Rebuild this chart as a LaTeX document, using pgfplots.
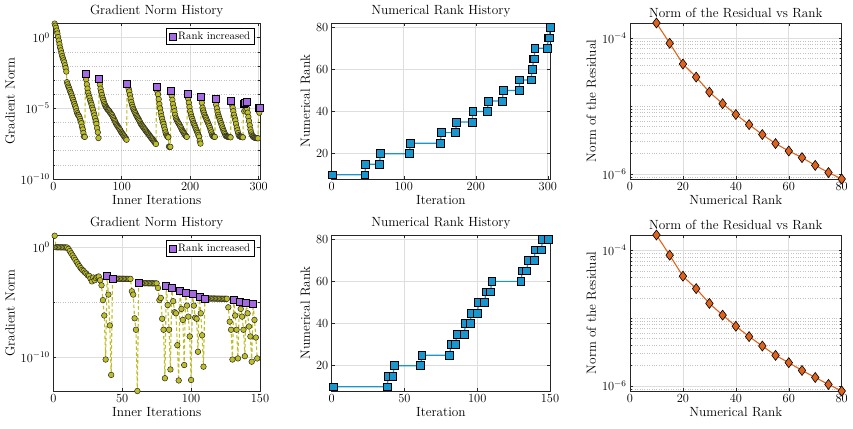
\RequirePackage{fix-cm}
\documentclass[border=0pt]{standalone}
\usepackage{pgfplots}
\pgfplotsset{compat=1.18}

\definecolor{gcol}{RGB}{190,190,40}
\definecolor{pcol}{RGB}{165,105,225}
\definecolor{bcol}{RGB}{25,150,205}
\definecolor{ocol}{RGB}{222,100,30}
\definecolor{axcol}{RGB}{38,38,38}

\pgfplotsset{
  panel/.style={
    scale only axis,
    anchor=south west,
    axis line style={axcol, line width=0.6pt},
    every tick/.style={axcol, line width=0.5pt},
    major tick length=3pt,
    minor tick length=1.8pt,
    tick label style={font=\fontsize{12.4}{14}\selectfont},
    label style={font=\fontsize{13.3}{15}\selectfont},
    title style={font=\fontsize{13.3}{15}\selectfont, yshift=-4pt},
    major grid style={black!13, line width=0.7pt},
    minor grid style={black!24, dotted, line width=0.5pt},
    xlabel style={yshift=2pt},
    ylabel style={yshift=-1pt},
    legend style={font=\fontsize{10.8}{12}\selectfont, draw=black, fill=white,
      inner xsep=2.5pt, inner ysep=1.5pt, at={(0.975,0.965)}, anchor=north east},
    legend cell align=left,
  },
  gnorm/.style={gcol, line width=1.1pt, dash pattern=on 3.5pt off 2.5pt,
    mark=*, mark size=2.8pt,
    mark options={solid, fill=gcol, draw=black!85, line width=0.5pt}},
  rankinc/.style={only marks, mark=square*, mark size=3.5pt,
    mark options={fill=pcol, draw=black, line width=0.6pt}},
  rankline/.style={bcol, line width=1.2pt, mark=square*, mark size=3.9pt,
    mark options={fill=bcol, draw=black, line width=0.7pt}},
  resline/.style={ocol, line width=1.1pt, mark=diamond*, mark size=5pt,
    mark options={fill=ocol, draw=black, line width=0.6pt}},
}

\begin{document}
\begin{tikzpicture}
\path[use as bounding box] (0,0) rectangle (853pt,428pt);

% ---------------- first run: gradient norm ----------------
\begin{axis}[panel, at={(53.3pt,249pt)}, width=206.7pt, height=156pt,
  ymode=log, xmin=0, xmax=302, ymin=1e-10, ymax=11,
  xtick={0,100,200,300}, ytick={1e-10,1e-5,1},
  minor ytick={1e-9,1e-8,1e-7,1e-6,1e-4,1e-3,1e-2,1e-1,10},
  grid=both,
  title={Gradient Norm History}, xlabel={Inner Iterations}, ylabel={Gradient Norm}]
\addplot[gnorm, forget plot] coordinates {
(1,11.2)(2,10)(3,7.1)(4,5.0)(5,3.2)(6,2.0)(7,1.12)(8,0.63)(9,0.35)(10,0.2)
(11,0.126)(12,7.9e-2)(13,5.0e-2)(14,3.5e-2)(15,2.5e-2)(16,1.8e-2)(17,1.12e-2)(18,7.1e-3)(19,4.0e-3)(20,7.1e-4)
(21,5.0e-4)(22,3.5e-4)(23,2.8e-4)(24,2.0e-4)(25,1.41e-4)(26,1.12e-4)(27,7.9e-5)(28,5.6e-5)(29,4.0e-5)(30,2.8e-5)
(31,2.0e-5)(32,1.41e-5)(33,1.0e-5)(34,6.3e-6)(35,4.5e-6)(36,3.5e-6)(37,3.2e-6)(38,2.5e-6)(39,1.8e-6)(40,1.26e-6)
(41,8.9e-7)(42,5.0e-7)(43,3.2e-7)(44,1.8e-7)(45,1.0e-7)(46,9.5e-8)
(47,2.75e-3)(48,1.12e-3)(49,5.0e-4)(50,2.5e-4)(51,1.26e-4)(52,7.9e-5)(53,5.6e-5)(54,3.5e-5)(55,2.5e-5)(56,1.8e-5)
(57,1.12e-5)(58,7.9e-6)(59,5.0e-6)(60,3.2e-6)(61,2.0e-6)(62,1.26e-6)(63,7.9e-7)(64,4.0e-7)(65,2.0e-7)(66,7.9e-8)
(67,1.32e-3)(68,5.0e-4)(69,2.5e-4)(70,1.41e-4)(71,8.9e-5)(72,5.6e-5)(73,4.0e-5)(74,2.8e-5)(75,2.0e-5)(76,1.58e-5)
(77,1.26e-5)(78,1.07e-5)(79,8.9e-6)(80,7.9e-6)(81,7.1e-6)(82,6.0e-6)(83,5.0e-6)(84,4.4e-6)(85,3.8e-6)(86,3.2e-6)
(87,2.5e-6)(88,2.0e-6)(89,1.58e-6)(90,1.26e-6)(91,1.0e-6)(92,7.9e-7)(93,6.6e-7)(94,5.6e-7)(95,4.7e-7)(96,4.0e-7)
(97,3.3e-7)(98,2.75e-7)(99,2.2e-7)(100,1.9e-7)(101,1.58e-7)(102,1.38e-7)(103,1.17e-7)(104,1.0e-7)(105,8.3e-8)(106,7.1e-8)
(107,6.0e-8)
(108,5.5e-4)(109,4.0e-4)(110,2.5e-4)(111,1.58e-4)(112,8.9e-5)(113,5.0e-5)(114,2.8e-5)(115,1.8e-5)(116,1.26e-5)(117,8.9e-6)
(118,7.1e-6)(119,5.6e-6)(120,4.5e-6)(121,3.5e-6)(122,2.8e-6)(123,2.3e-6)(124,1.9e-6)(125,1.58e-6)(126,1.26e-6)(127,1.0e-6)
(128,7.9e-7)(129,6.8e-7)(130,5.8e-7)(131,5.0e-7)(132,4.3e-7)(133,3.6e-7)(134,3.2e-7)(135,2.7e-7)(136,2.3e-7)(137,2.0e-7)
(138,1.74e-7)(139,1.51e-7)(140,1.32e-7)(141,1.12e-7)(142,9.5e-8)(143,8.3e-8)(144,7.2e-8)(145,6.3e-8)(146,5.4e-8)(147,4.7e-8)
(148,4.0e-8)(149,3.5e-8)(150,3.0e-8)
(151,3.4e-4)(152,1.58e-4)(153,1.0e-4)(154,4.5e-5)(155,2.0e-5)(156,1.0e-5)(157,5.0e-6)(158,2.8e-6)(159,1.8e-6)(160,1.12e-6)
(161,7.9e-7)(162,5.0e-7)(163,3.2e-7)(164,2.0e-7)(165,1.41e-7)(166,1.12e-7)(167,1.0e-7)(168,8.9e-8)(169,2.0e-8)(170,1.8e-8)
(171,1.9e-8)
(172,1.86e-4)(173,7.9e-5)(174,4.0e-5)(175,2.0e-5)(176,1.12e-5)(177,6.3e-6)(178,3.5e-6)(179,2.2e-6)(180,1.66e-6)(181,1.32e-6)
(182,1.05e-6)(183,8.7e-7)(184,7.4e-7)(185,6.0e-7)(186,4.8e-7)(187,3.8e-7)(188,3.0e-7)(189,2.5e-7)(190,2.1e-7)(191,1.74e-7)
(192,1.45e-7)(193,1.2e-7)(194,1.07e-7)(195,9.5e-8)
(196,1.1e-4)(197,5.0e-5)(198,2.5e-5)(199,1.26e-5)(200,6.3e-6)(201,3.8e-6)(202,2.5e-6)(203,1.8e-6)(204,1.26e-6)(205,8.9e-7)
(206,7.1e-7)(207,5.4e-7)(208,4.0e-7)(209,3.0e-7)(210,2.3e-7)(211,1.8e-7)(212,1.32e-7)(213,1.0e-7)(214,5.0e-8)(215,3.2e-8)
(216,6.6e-5)(217,2.5e-5)(218,1.12e-5)(219,7.1e-6)(220,5.0e-6)(221,3.5e-6)(222,2.6e-6)(223,2.1e-6)(224,1.58e-6)(225,1.2e-6)
(226,9.3e-7)(227,7.2e-7)(228,5.5e-7)(229,4.0e-7)(230,2.8e-7)(231,2.0e-7)(232,1.41e-7)(233,1.12e-7)(234,1.0e-7)(235,1.0e-7)
(236,9.5e-8)
(237,5.0e-5)(238,1.8e-5)(239,1.0e-5)(240,5.6e-6)(241,3.5e-6)(242,2.5e-6)(243,1.8e-6)(244,1.26e-6)(245,8.9e-7)(246,6.3e-7)
(247,4.5e-7)(248,3.3e-7)(249,2.5e-7)(250,1.9e-7)(251,1.48e-7)(252,1.17e-7)(253,1.07e-7)(254,1.0e-7)(255,1.0e-7)(256,9.5e-8)
(257,9.5e-8)(258,9.3e-8)(259,8.9e-8)
(260,3.7e-5)(261,1.8e-5)(262,1.12e-5)(263,6.3e-6)(264,3.5e-6)(265,2.2e-6)(266,1.41e-6)(267,7.9e-7)(268,4.4e-7)(269,2.8e-7)
(270,1.8e-7)(271,1.26e-7)(272,1.07e-7)(273,1.0e-7)(274,1.0e-7)(275,9.5e-8)(276,9.3e-8)(277,8.9e-8)
(278,2.1e-5)(279,6.3e-6)(280,2.5e-5)(281,7.9e-6)(282,2.95e-5)
(283,1.0e-5)(284,5.0e-6)(285,2.5e-6)(286,1.26e-6)(287,6.3e-7)(288,3.2e-7)(289,2.0e-7)(290,1.41e-7)(291,1.12e-7)(292,1.0e-7)
(293,8.9e-8)(294,8.5e-8)(295,8.3e-8)(296,7.9e-8)(297,7.9e-8)(298,7.9e-8)(299,7.6e-8)
(300,1.12e-5)(301,5.0e-6)(302,1.17e-5)
};
\addplot[rankinc] coordinates {
(47,2.75e-3)(67,1.32e-3)(108,5.5e-4)(151,3.4e-4)(172,1.86e-4)(196,1.1e-4)(216,6.6e-5)
(237,5.0e-5)(260,3.7e-5)(278,2.1e-5)(280,2.5e-5)(282,2.95e-5)(300,1.12e-5)(302,1.17e-5)
};
\addlegendentry{Rank increased}
\end{axis}

% ---------------- first run: numerical rank ----------------
\begin{axis}[panel, at={(331.7pt,249pt)}, width=218.3pt, height=156pt,
  xmin=0, xmax=303, ymin=8, ymax=82,
  xtick={0,100,200,300}, ytick={20,40,60,80}, grid=major,
  title={Numerical Rank History}, xlabel={Iteration}, ylabel={Numerical Rank}]
\addplot[rankline] coordinates {
(1,10)(46,10)(47,15)(66,15)(68,20)(108,20)(109,25)(151,25)(152,30)(172,30)
(173,35)(195,35)(196,40)(216,40)(217,45)(237,45)(238,50)(260,50)(261,55)(277,55)
(278,60)(279,60)(280,65)(281,65)(282,70)(299,70)(301,75)(302,75)(303,80)
};
\end{axis}

% ---------------- first run: residual ----------------
\begin{axis}[panel, at={(630pt,249pt)}, width=211.7pt, height=156pt,
  ymode=log, xmin=0, xmax=80, ymin=8.44e-7, ymax=1.66e-4,
  xtick={0,20,40,60,80}, ytick={1e-6,1e-4},
  minor ytick={9e-7,2e-6,3e-6,4e-6,5e-6,6e-6,7e-6,8e-6,9e-6,1e-5,2e-5,3e-5,4e-5,5e-5,6e-5,7e-5,8e-5,9e-5},
  grid=both,
  title={Norm of the Residual vs Rank}, xlabel={Numerical Rank}, ylabel={Norm of the Residual}]
\addplot[resline] coordinates {
(10,1.66e-4)(15,8.35e-5)(20,4.14e-5)(25,2.66e-5)(30,1.60e-5)(35,1.08e-5)(40,7.5e-6)(45,5.33e-6)
(50,3.80e-6)(55,2.80e-6)(60,2.18e-6)(65,1.74e-6)(70,1.34e-6)(75,1.05e-6)(80,8.44e-7)
};
\end{axis}

% ---------------- second run: gradient norm ----------------
\begin{axis}[panel, at={(53.3pt,37pt)}, width=206.7pt, height=156pt,
  ymode=log, xmin=0, xmax=150, ymin=8.7e-14, ymax=13,
  xtick={0,50,100,150}, ytick={1e-10,1}, minor ytick={1e-5},
  grid=both,
  title={Gradient Norm History}, xlabel={Inner Iterations}, ylabel={Gradient Norm}]
\addplot[gnorm, forget plot] coordinates {
(1,11.2)(2,1.0)(3,1.0)(4,0.99)(5,0.99)(6,0.98)(7,0.98)(8,0.97)(9,0.96)(10,0.95)
(11,0.71)(12,0.45)(13,0.28)(14,0.18)(15,0.112)(16,7.1e-2)(17,4.5e-2)(18,2.8e-2)(19,1.9e-2)(20,1.26e-2)
(21,8.9e-3)(22,7.1e-3)(23,5.0e-3)(24,4.0e-3)(25,2.8e-3)(26,2.5e-3)(27,1.41e-3)(28,7.9e-4)(29,1.78e-3)(30,1.0e-3)
(31,1.58e-3)(32,2.0e-3)(33,2.2e-3)(34,1.0e-3)(35,3.5e-4)(36,1.58e-5)(37,6.3e-7)(38,6.3e-11)
(39,2.8e-3)(40,5.0e-5)(41,7.9e-8)(42,2.5e-12)
(43,1.41e-3)(44,1.40e-3)(45,1.40e-3)(46,1.39e-3)(47,1.39e-3)(48,1.38e-3)(49,1.38e-3)(50,1.37e-3)(51,1.37e-3)(52,1.36e-3)
(53,1.36e-3)(54,1.35e-3)(55,1.35e-3)(56,1.34e-3)(57,1.0e-4)(58,5.0e-5)(59,3.5e-7)(60,3.2e-8)(61,8.7e-14)
(62,5.6e-4)(63,5.5e-4)(64,5.5e-4)(65,5.4e-4)(66,5.4e-4)(67,5.4e-4)(68,5.4e-4)(69,5.3e-4)(70,5.3e-4)(71,5.3e-4)
(72,5.3e-4)(73,5.2e-4)(74,5.2e-4)(75,5.2e-4)(76,2.0e-4)(77,1.58e-5)(78,2.5e-5)(79,3.2e-7)(80,3.2e-8)(81,1.26e-12)
(82,3.4e-4)(83,5.6e-6)(84,3.2e-8)(85,7.9e-12)
(86,2.2e-4)(87,1.26e-5)(88,1.26e-6)(89,1.0e-6)(90,1.26e-9)(91,7.9e-13)
(92,1.12e-4)(93,2.5e-6)(94,2.5e-7)(95,2.0e-11)
(96,7.9e-5)(97,5.0e-6)(98,5.0e-7)(99,7.9e-9)(100,8.7e-13)
(101,5.6e-5)(102,5.0e-6)(103,4.0e-7)(104,3.2e-7)(105,3.2e-10)
(106,3.4e-5)(107,1.0e-6)(108,1.0e-8)(109,1.41e-11)
(110,2.3e-5)(111,2.25e-5)(112,2.25e-5)(113,2.2e-5)(114,2.2e-5)(115,2.2e-5)(116,2.2e-5)(117,2.2e-5)(118,2.15e-5)(119,2.15e-5)
(120,2.15e-5)(121,2.15e-5)(122,2.1e-5)(123,2.1e-5)(124,2.1e-5)(125,2.1e-5)(126,2.1e-5)
(127,3.5e-6)(128,1.74e-7)(129,3.2e-8)(130,6.3e-11)
(131,1.62e-5)(132,6.3e-7)(133,3.2e-8)(134,7.9e-11)
(135,1.15e-5)(136,2.5e-6)(137,5.0e-7)(138,3.2e-8)(139,1.26e-10)
(140,9.1e-6)(141,1.0e-6)(142,6.3e-8)(143,7.9e-9)(144,4.0e-11)
(145,6.6e-6)(146,2.5e-7)(147,6.3e-9)(148,7.9e-11)
};
\addplot[rankinc] coordinates {
(39,2.8e-3)(43,1.41e-3)(62,5.6e-4)(82,3.4e-4)(86,2.2e-4)(92,1.12e-4)(96,7.9e-5)
(101,5.6e-5)(106,3.4e-5)(110,2.3e-5)(131,1.62e-5)(135,1.15e-5)(140,9.1e-6)(145,6.6e-6)
};
\addlegendentry{Rank increased}
\end{axis}

% ---------------- second run: numerical rank ----------------
\begin{axis}[panel, at={(331.7pt,37pt)}, width=218.3pt, height=156pt,
  xmin=0, xmax=150, ymin=8, ymax=82,
  xtick={0,50,100,150}, ytick={20,40,60,80}, grid=major,
  title={Numerical Rank History}, xlabel={Iteration}, ylabel={Numerical Rank}]
\addplot[rankline] coordinates {
(1,10)(38,10)(39,15)(42,15)(43,20)(61,20)(62,25)(81,25)(82,30)(85,30)
(86,35)(91,35)(92,40)(95,40)(96,45)(100,45)(101,50)(105,50)(106,55)(109,55)
(110,60)(130,60)(131,65)(134,65)(135,70)(139,70)(140,75)(144,75)(145,80)(149,80)
};
\end{axis}

% ---------------- second run: residual ----------------
\begin{axis}[panel, at={(630pt,37pt)}, width=211.7pt, height=156pt,
  ymode=log, xmin=0, xmax=80, ymin=8.4e-7, ymax=1.69e-4,
  xtick={0,20,40,60,80}, ytick={1e-6,1e-4},
  minor ytick={9e-7,2e-6,3e-6,4e-6,5e-6,6e-6,7e-6,8e-6,9e-6,1e-5,2e-5,3e-5,4e-5,5e-5,6e-5,7e-5,8e-5,9e-5},
  grid=both,
  title={Norm of the Residual vs Rank}, xlabel={Numerical Rank}, ylabel={Norm of the Residual}]
\addplot[resline] coordinates {
(10,1.69e-4)(15,8.5e-5)(20,4.16e-5)(25,2.73e-5)(30,1.65e-5)(35,1.11e-5)(40,7.6e-6)(45,5.35e-6)
(50,3.88e-6)(55,2.82e-6)(60,2.2e-6)(65,1.69e-6)(70,1.33e-6)(75,1.05e-6)(80,8.4e-7)
};
\end{axis}
\end{tikzpicture}
\end{document}
